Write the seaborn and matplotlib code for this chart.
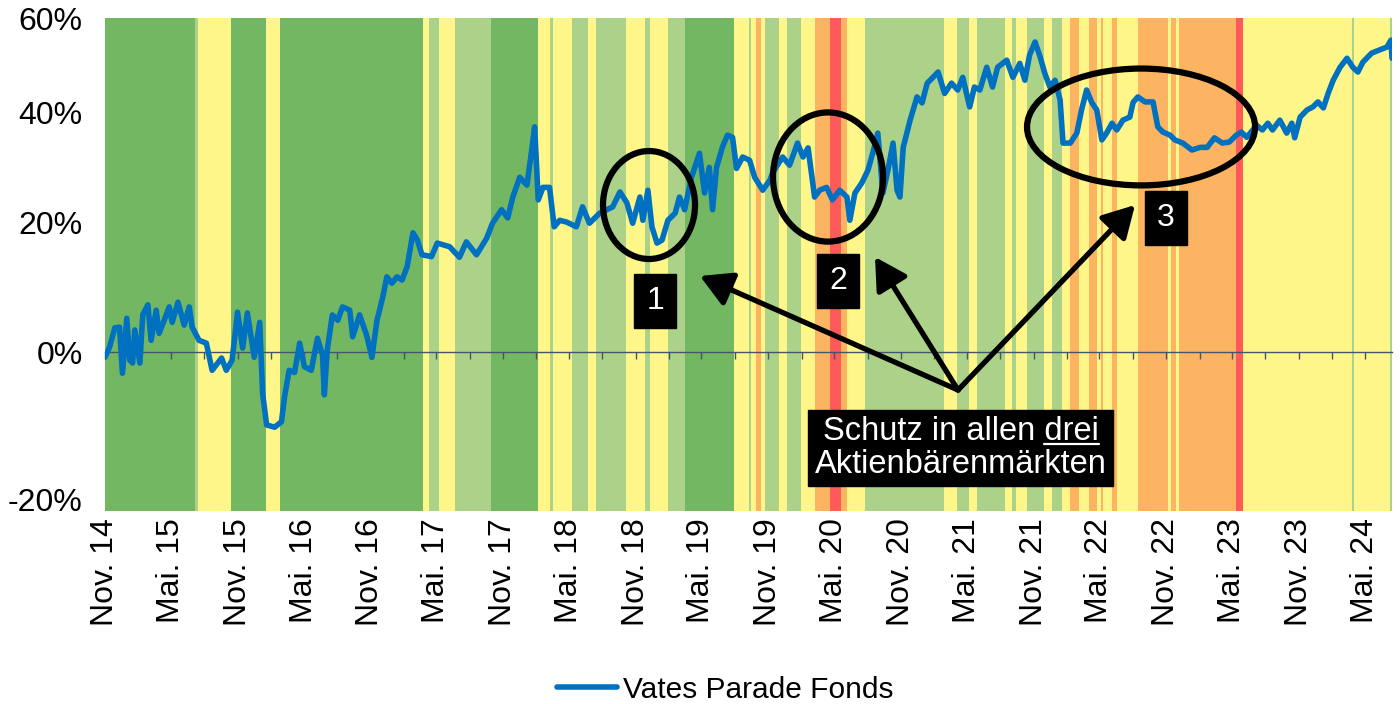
import numpy as np
import pandas as pd
import matplotlib
matplotlib.use("Agg")
import matplotlib.pyplot as plt
import matplotlib.dates as mdates
from matplotlib.patches import Ellipse
from matplotlib.lines import Line2D
from matplotlib.ticker import NullLocator
import seaborn as sns

# --- DATA ---
fund_dates = [
    "2014-11-01", "2014-11-14", "2014-11-28", "2014-12-11", "2014-12-19", "2014-12-31",
    "2015-01-08", "2015-01-16", "2015-01-22", "2015-02-05", "2015-02-13", "2015-02-27",
    "2015-03-08", "2015-03-22", "2015-03-30", "2015-04-13", "2015-04-27", "2015-05-05",
    "2015-05-21", "2015-06-07", "2015-06-21", "2015-06-29", "2015-07-18", "2015-08-07",
    "2015-08-23", "2015-09-18", "2015-10-01", "2015-10-17", "2015-11-01", "2015-11-15",
    "2015-11-28", "2015-12-17", "2016-01-01", "2016-01-09", "2016-01-20", "2016-02-11",
    "2016-03-01", "2016-03-09", "2016-03-22", "2016-04-06", "2016-04-20", "2016-05-03",
    "2016-05-22", "2016-06-08", "2016-06-22", "2016-06-27", "2016-07-05", "2016-07-19",
    "2016-08-03", "2016-08-16", "2016-09-05", "2016-09-13", "2016-10-02", "2016-10-21",
    "2016-11-05", "2016-11-19", "2016-12-05", "2016-12-16", "2016-12-30", "2017-01-13",
    "2017-01-27", "2017-02-10", "2017-02-26", "2017-03-10", "2017-03-23", "2017-04-18",
    "2017-05-04", "2017-06-07", "2017-07-04", "2017-07-23", "2017-08-20", "2017-09-17",
    "2017-10-03", "2017-10-28", "2017-11-14", "2017-11-28", "2017-12-17", "2018-01-06",
    "2018-01-19", "2018-01-27", "2018-02-06", "2018-02-19", "2018-03-09", "2018-03-22",
    "2018-04-06", "2018-04-25", "2018-05-22", "2018-06-08", "2018-06-27", "2018-07-25",
    "2018-08-30", "2018-09-19", "2018-10-08", "2018-10-24", "2018-11-13", "2018-11-21",
    "2018-12-05", "2018-12-16", "2018-12-30", "2019-01-13", "2019-01-29", "2019-02-18",
    "2019-03-02", "2019-03-16", "2019-04-04", "2019-04-26", "2019-05-10", "2019-05-23",
    "2019-06-01", "2019-06-12", "2019-06-28", "2019-07-12", "2019-07-26", "2019-08-06",
    "2019-08-23", "2019-09-11", "2019-09-25", "2019-10-17", "2019-11-06", "2019-11-14",
    "2019-12-11", "2019-12-30", "2020-01-21", "2020-02-05", "2020-02-19", "2020-03-08",
    "2020-03-22", "2020-04-10", "2020-04-26", "2020-05-16", "2020-06-05", "2020-06-13",
    "2020-06-27", "2020-07-16", "2020-08-02", "2020-08-15", "2020-08-29", "2020-09-12",
    "2020-09-26", "2020-10-10", "2020-10-21", "2020-10-29", "2020-11-07", "2020-11-26",
    "2020-12-15", "2020-12-29", "2021-01-12", "2021-01-28", "2021-02-11", "2021-03-01",
    "2021-03-20", "2021-04-06", "2021-04-20", "2021-05-09", "2021-05-22", "2021-06-06",
    "2021-06-25", "2021-07-11", "2021-07-25", "2021-08-19", "2021-09-05", "2021-09-24",
    "2021-10-08", "2021-10-21", "2021-11-05", "2021-11-19", "2021-12-02", "2021-12-16",
    "2021-12-30", "2022-01-13", "2022-01-21", "2022-02-10", "2022-02-28", "2022-03-13",
    "2022-03-27", "2022-04-10", "2022-04-24", "2022-05-08", "2022-05-21", "2022-06-05",
    "2022-06-18", "2022-07-05", "2022-07-24", "2022-08-02", "2022-08-15", "2022-09-04",
    "2022-09-26", "2022-10-09", "2022-10-23", "2022-11-12", "2022-11-25", "2022-12-17",
    "2023-01-11", "2023-02-03", "2023-02-22", "2023-03-14", "2023-04-05", "2023-04-24",
    "2023-05-13", "2023-05-27", "2023-06-11", "2023-07-08", "2023-07-24", "2023-08-08",
    "2023-08-21", "2023-09-10", "2023-09-29", "2023-10-13", "2023-10-21", "2023-11-05",
    "2023-11-24", "2023-12-10", "2023-12-24", "2024-01-08", "2024-01-21", "2024-02-04",
    "2024-02-23", "2024-03-13", "2024-03-29", "2024-04-12", "2024-04-26", "2024-05-20",
    "2024-06-11", "2024-07-01", "2024-07-12", "2024-07-15",
]

# cumulative performance in %
fund_return_pct = [
    -0.7, 0.8, 3.5, 3.6, -2.9, 4.9,
    -1.1, -1.5, 3.2, -1.5, 5.4, 6.9,
    1.7, 6.1, 2.7, 4.6, 6.6, 4.3,
    7.3, 3.9, 6.6, 3.6, 1.7, 1.3,
    -2.5, -0.8, -2.5, -1.1, 5.8, 0.6,
    5.7, -0.7, 4.3, -5.6, -9.7, -10.0,
    -9.3, -6.2, -2.5, -2.8, 1.3, -2.0,
    -2.5, 2.0, -0.4, -5.8, 0.3, 5.4,
    4.6, 6.6, 6.1, 2.2, 5.4, 2.5,
    -0.7, 4.6, 8.1, 11.2, 10.2, 11.2,
    10.7, 12.8, 18.3, 17.1, 14.7, 14.4,
    16.6, 16.0, 14.3, 16.8, 14.7, 17.4,
    19.9, 22.2, 20.8, 24.4, 27.9, 26.5,
    32.9, 37.3, 23.9, 26.1, 26.1, 19.3,
    20.4, 20.1, 19.3, 22.7, 19.9, 21.6,
    22.7, 25.3, 23.4, 19.9, 24.4, 20.4,
    25.6, 19.3, 16.6, 17.1, 20.4, 21.6,
    24.4, 22.2, 27.9, 32.3, 25.1, 29.7,
    22.2, 29.7, 33.4, 35.7, 35.3, 29.5,
    31.6, 31.0, 27.9, 25.6, 27.4, 28.8,
    31.6, 30.1, 34.2, 31.6, 33.3, 24.4,
    25.6, 26.1, 23.9, 25.6, 24.4, 20.4,
    25.1, 26.9, 29.2, 32.3, 36.1, 25.1,
    29.2, 34.2, 25.6, 24.4, 33.4, 38.6,
    43.2, 42.0, 46.0, 47.2, 48.3, 43.9,
    46.0, 44.6, 47.2, 41.2, 45.2, 44.6,
    49.3, 45.2, 49.3, 50.8, 47.2, 50.1,
    46.6, 51.9, 54.7, 51.5, 48.0, 45.2,
    46.6, 42.6, 34.2, 34.2, 36.1, 40.6,
    44.6, 42.1, 40.6, 34.8, 36.1, 38.0,
    36.7, 38.6, 39.2, 42.1, 43.2, 42.2,
    42.2, 37.3, 36.3, 35.7, 34.8, 34.2,
    32.9, 33.4, 33.4, 35.2, 34.2, 34.4,
    35.7, 36.3, 35.3, 37.6, 36.7, 38.0,
    36.7, 38.6, 36.1, 38.0, 35.2, 39.2,
    40.6, 41.2, 42.2, 41.0, 43.9, 46.6,
    49.3, 51.2, 49.3, 48.3, 50.4, 52.3,
    53.0, 53.6, 55.1, 51.2,
]

# market regime bands (edges) and their signal: D=dark green, L=light green,
# Y=yellow, O=orange, R=red
band_edges = [
    "2014-11-01", "2015-07-08", "2015-07-16", "2015-10-13", "2016-01-18", "2016-02-25",
    "2017-03-25", "2017-04-10", "2017-05-10", "2017-06-21", "2017-09-29", "2018-02-04",
    "2018-03-09", "2018-03-20", "2018-05-11", "2018-06-22", "2018-07-14", "2018-10-05",
    "2018-11-27", "2018-12-10", "2019-01-30", "2019-03-18", "2019-07-29", "2019-09-09",
    "2019-09-14", "2019-09-28", "2019-10-12", "2019-10-23", "2019-12-01", "2019-12-23",
    "2020-01-31", "2020-03-08", "2020-04-19", "2020-05-19", "2020-06-05", "2020-07-25",
    "2021-02-27", "2021-04-04", "2021-05-07", "2021-05-29", "2021-08-15", "2021-09-03",
    "2021-09-14", "2021-10-14", "2021-11-30", "2021-12-22", "2022-01-17", "2022-02-08",
    "2022-03-05", "2022-04-02", "2022-04-24", "2022-05-05", "2022-05-11", "2022-06-05",
    "2022-06-18", "2022-08-16", "2022-11-07", "2022-11-15", "2022-11-29", "2022-12-07",
    "2023-05-12", "2023-05-31", "2024-03-27", "2024-04-02", "2024-07-10", "2024-07-15",
]
band_regime = ("D L Y D Y D Y L Y L D Y L Y L Y L Y L Y L D Y L Y O Y L Y L Y O R O "
               "Y L Y L Y L Y L Y L Y L Y O Y O Y O Y O Y O Y O Y O R Y L Y L").split()

tick_labels = ["Nov. 14", "Mai. 15", "Nov. 15", "Mai. 16", "Nov. 16", "Mai. 17",
               "Nov. 17", "Mai. 18", "Nov. 18", "Mai. 19", "Nov. 19", "Mai. 20",
               "Nov. 20", "Mai. 21", "Nov. 21", "Mai. 22", "Nov. 22", "Mai. 23",
               "Nov. 23", "Mai. 24"]
ytick_pct = [-20, 0, 20, 40, 60]

# --- STYLE ---
REGIME_COLORS = {"D": "#74B762", "L": "#ACD289", "Y": "#FFF68A",
                 "O": "#FDB462", "R": "#FF5A5A"}
LINE_COLOR = "#0070C0"
AXIS_COLOR = "#44546A"

sns.set_theme(style="white")
plt.rcParams["font.family"] = ["Liberation Sans", "DejaVu Sans"]
plt.rcParams["text.color"] = "black"
plt.rcParams["xtick.color"] = "black"
plt.rcParams["ytick.color"] = "black"
plt.rcParams["axes.labelcolor"] = "black"

fig = plt.figure(figsize=(14, 7.04), dpi=100)
ax = fig.add_axes([0.075, 0.2741, 0.9193, 0.7003])

# background regime bands
edges = pd.to_datetime(band_edges)
for start, end, code in zip(edges[:-1], edges[1:], band_regime):
    ax.axvspan(start, end, color=REGIME_COLORS[code], lw=0, zorder=0)

df = pd.DataFrame({
    "Datum": pd.to_datetime(fund_dates),
    "Index": 1 + np.array(fund_return_pct) / 100.0,
})
sns.lineplot(data=df, x="Datum", y="Index", color=LINE_COLOR, lw=4.0,
             label="Vates Parade Fonds", ax=ax, zorder=3)

# log scale on (1 + return)
ax.set_yscale("log")
ax.set_ylim(0.8, 1.6)
ax.set_yticks([1 + p / 100 for p in ytick_pct])
ax.set_yticklabels([f"{p}%" for p in ytick_pct])
ax.yaxis.set_minor_locator(NullLocator())
ax.tick_params(axis="y", length=0, pad=16, labelsize=23, labelcolor="black")
for lbl in ax.get_yticklabels():
    if lbl.get_text() == "-20%":
        lbl.set_va("baseline")
ax.set_xlim(edges[0], edges[-1])
ax.set_xlabel("")
ax.set_ylabel("")

# zero line with quarterly ticks
for s in ["top", "right", "left"]:
    ax.spines[s].set_visible(False)
ax.spines["bottom"].set_position(("data", 1.0))
ax.spines["bottom"].set_color(AXIS_COLOR)
ax.spines["bottom"].set_linewidth(1.0)
ax.spines["bottom"].set_zorder(2)
ax.xaxis.set_major_locator(mdates.MonthLocator(bymonth=[2, 5, 8, 11]))
ax.tick_params(axis="x", direction="out", length=5, width=1, color=AXIS_COLOR,
               labelbottom=False, bottom=True)

# date labels at bottom of plot
tick_dates = pd.date_range("2014-11-01", periods=len(tick_labels), freq="6MS")
sec = ax.secondary_xaxis("bottom")
sec.set_xticks(mdates.date2num(tick_dates), tick_labels)
sec.tick_params(length=0, pad=5, labelsize=23, labelrotation=90, labelcolor="black")
sec.spines["bottom"].set_visible(False)

# annotations
ellipses = [((0.4227, 0.6207), 0.0715, 0.219),
            ((0.5618, 0.6775), 0.0855, 0.262),
            ((0.8050, 0.7790), 0.1772, 0.237)]
for center, w, h in ellipses:
    ax.add_patch(Ellipse(center, w, h, transform=ax.transAxes, fill=False,
                         ec="black", lw=4.5, zorder=5))

for label, (bx, by) in zip(["1", "2", "3"],
                           [(0.4274, 0.426), (0.5695, 0.4665), (0.8244, 0.5943)]):
    ax.text(bx, by, label, transform=ax.transAxes, ha="center", va="center",
            color="white", fontsize=23, zorder=6,
            bbox=dict(boxstyle="square,pad=0.38", fc="black", ec="black"))

apex = (0.6628, 0.2454)
for head in [(0.4623, 0.4767), (0.5983, 0.5152), (0.8003, 0.6207)]:
    ax.annotate("", xy=head, xycoords="axes fraction", xytext=apex,
                textcoords="axes fraction", zorder=6,
                arrowprops=dict(arrowstyle="-|>,head_length=0.8,head_width=0.45",
                                lw=3.8, color="black", shrinkA=0, shrinkB=0,
                                mutation_scale=24))

line1 = "Schutz in allen drei"
box_text = ax.text(0.665, 0.128, line1 + "\nAktienbärenmärkten",
                   transform=ax.transAxes, ha="center", va="center",
                   multialignment="center", color="white", fontsize=23.5,
                   linespacing=1.05, zorder=7,
                   bbox=dict(boxstyle="square,pad=0.2", fc="black", ec="black"))

leg = ax.legend(loc="center", bbox_to_anchor=(0.518, 0.02), bbox_transform=fig.transFigure,
                frameon=False, fontsize=21.5, handlelength=2.0, handletextpad=0.2)
for txt in leg.get_texts():
    txt.set_color("black")

# underline "drei" (mathtext has no \underline)
fig.canvas.draw()
rend = fig.canvas.get_renderer()
prop = box_text.get_fontproperties()
ext = box_text.get_window_extent(rend)
w1, _, _ = rend.get_text_width_height_descent(line1, prop, ismath=False)
wd, _, _ = rend.get_text_width_height_descent("drei", prop, ismath=False)
_, hl, dl = rend.get_text_width_height_descent("lp", prop, ismath=False)
cx = (ext.x0 + ext.x1) / 2
x_end = cx + w1 / 2
x_start = x_end - wd
uy = ext.y1 - (hl - dl) - 0.12 * prop.get_size_in_points() * fig.dpi / 72
inv = fig.transFigure.inverted()
(fx0, fy), (fx1, _) = inv.transform([(x_start, uy), (x_end, uy)])
fig.add_artist(Line2D([fx0, fx1], [fy, fy], transform=fig.transFigure,
                      color="white", lw=1.6, zorder=8))

fig.savefig("out.png", dpi=100)
